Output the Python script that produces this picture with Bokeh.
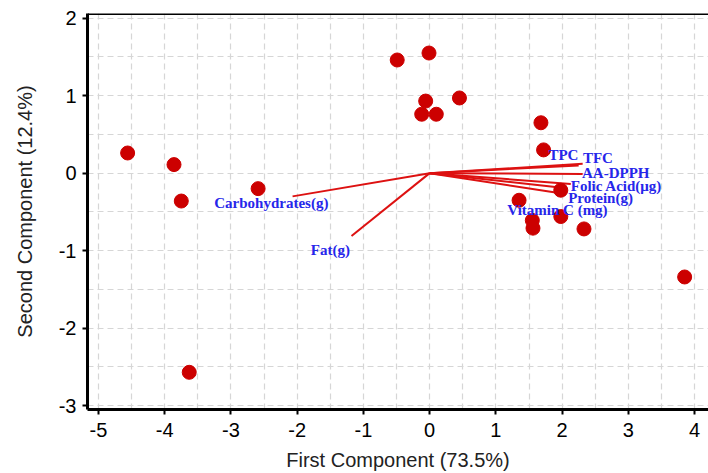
from bokeh.plotting import figure
from bokeh.models import FixedTicker, Range1d, Span, ColumnDataSource, PrintfTickFormatter
from bokeh.core.properties import value
from bokeh.embed import file_html
from bokeh.resources import INLINE

# Scores (samples)
score_x = [-4.56, -3.86, -3.75, -2.59, -3.63, -0.49, -0.01, 0.45, -0.06, -0.12,
           0.10, 1.68, 1.72, 1.98, 1.35, 1.98, 1.55, 1.56, 2.33, 3.85]
score_y = [0.26, 0.11, -0.36, -0.20, -2.57, 1.46, 1.55, 0.97, 0.93, 0.76,
           0.76, 0.65, 0.30, -0.22, -0.35, -0.56, -0.61, -0.71, -0.72, -1.34]

# Loadings (variables)
variables = ["Carbohydrates(g)", "Fat(g)", "TPC", "TFC", "AA-DPPH",
             "Folic Acid(\u03bcg)", "Protein(g)", "Vitamin C (mg)"]
load_x = [-2.07, -1.18, 2.25, 2.31, 2.31, 2.13, 1.90, 2.00]
load_y = [-0.30, -0.81, 0.10, 0.12, -0.01, -0.14, -0.25, -0.19]
label_x = [-2.39, -1.50, 2.02, 2.54, 2.81, 2.82, 2.58, 1.93]
label_y = [-0.38, -0.99, 0.24, 0.19, 0.00, -0.17, -0.32, -0.47]

x_ticks = [-5, -4, -3, -2, -1, 0, 1, 2, 3, 4]
y_ticks = [-3, -2, -1, 0, 1, 2]
x_title = "First Component (73.5%)"
y_title = "Second Component (12.4%)"

p = figure(width=708, height=473, output_backend="svg", toolbar_location=None,
           x_range=Range1d(-5.166, 4.21), y_range=Range1d(-3.05, 2.06),
           min_border_left=87, min_border_top=13, min_border_bottom=64,
           min_border_right=0)
p.outline_line_color = None
p.background_fill_color = "white"
p.border_fill_color = "white"

grid_x = [v / 2 for v in range(-12, 10)]
grid_y = [v / 2 for v in range(-8, 6)]
p.xgrid.ticker = FixedTicker(ticks=grid_x)
p.ygrid.ticker = FixedTicker(ticks=grid_y)
for g in (p.xgrid, p.ygrid):
    g.grid_line_color = "#d6d6d6"
    g.grid_line_dash = "6 4"
    g.grid_line_width = 1.2

for ax, ticks, title in ((p.xaxis, x_ticks, x_title), (p.yaxis, y_ticks, y_title)):
    ax.ticker = FixedTicker(ticks=ticks)
    ax.formatter = PrintfTickFormatter(format="%d")
    ax.minor_tick_line_color = None
    ax.axis_line_width = 3
    ax.axis_line_color = "black"
    ax.major_tick_line_width = 2
    ax.major_tick_out = 5
    ax.major_tick_in = 0
    ax.major_label_text_font = "Liberation Sans"
    ax.major_label_text_font_size = "20px"
    ax.major_label_text_color = "black"
    ax.axis_label = title
    ax.axis_label_text_font = "Liberation Sans"
    ax.axis_label_text_font_size = "20px"
    ax.axis_label_text_font_style = "normal"
    ax.axis_label_text_color = "#222222"

p.xaxis.major_label_standoff = 8
p.xaxis.axis_label_standoff = 9
p.yaxis.major_label_standoff = 6
p.yaxis.axis_label_standoff = 20

top = Span(location=2.06, dimension="width", line_color="black", line_width=3)
p.add_layout(top)

# loading vectors
p.segment(x0=[0] * len(load_x), y0=[0] * len(load_y), x1=load_x, y1=load_y,
          line_color="#dd1111", line_width=2)

# score points
p.scatter(score_x, score_y, size=14, fill_color="#cc0000", line_color="#cc0000")

src = ColumnDataSource(dict(x=label_x, y=label_y, t=variables))
p.text(x="x", y="y", text="t", source=src, text_font=value("Liberation Serif"),
       text_font_style="bold", text_font_size="15px", text_color="#2626ea",
       text_align="center", text_baseline="middle")

open("out.html", "w").write(file_html(p, INLINE))
